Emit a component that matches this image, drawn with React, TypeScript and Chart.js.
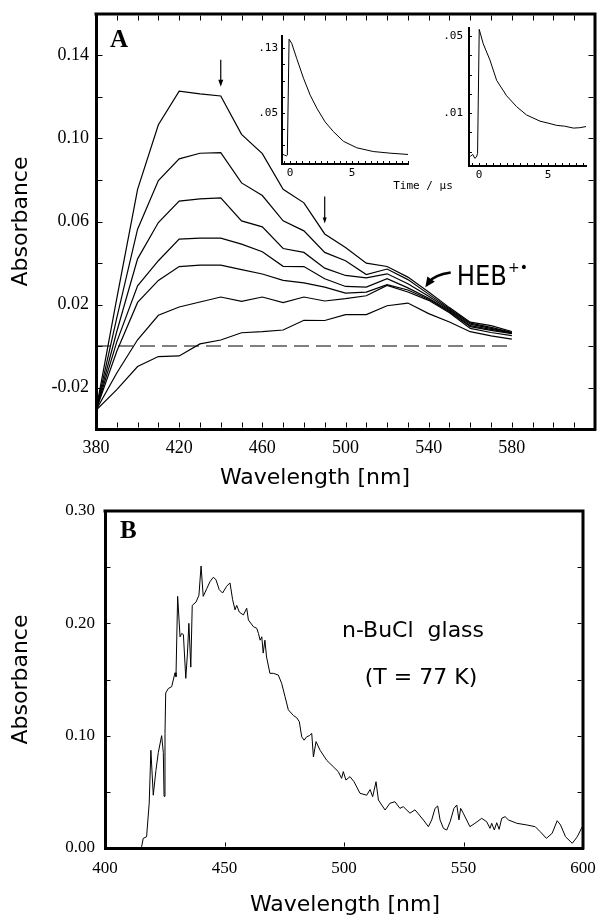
import React, { useEffect, useRef } from "react";
import { Chart, registerables } from "chart.js";
Chart.register(...registerables);

// ---------------- Panel A data ----------------
const wavelengthA = [380, 390, 400, 410, 420, 430, 440, 450, 460, 470, 480, 490, 500, 510, 520, 530, 540, 550, 560, 570, 580];
const traceA1 = [-0.031, 0.023, 0.0755, 0.1066, 0.1228, 0.1215, 0.1205, 0.102, 0.0927, 0.0755, 0.069, 0.054, 0.0475, 0.0399, 0.0383, 0.0332, 0.026, 0.0185, 0.0115, 0.0098, 0.007];
const traceA2 = [-0.031, 0.0135, 0.0563, 0.0797, 0.0902, 0.0929, 0.0932, 0.0786, 0.0725, 0.0603, 0.0555, 0.0451, 0.0411, 0.0344, 0.0371, 0.032, 0.025, 0.018, 0.011, 0.009, 0.0066];
const traceA3 = [-0.031, 0.007, 0.042, 0.0595, 0.0698, 0.0709, 0.0714, 0.0603, 0.0574, 0.047, 0.0451, 0.0375, 0.034, 0.0328, 0.0348, 0.03, 0.024, 0.0175, 0.0105, 0.0085, 0.0064];
const traceA4 = [-0.031, 0.002, 0.029, 0.0411, 0.0515, 0.052, 0.052, 0.0491, 0.0454, 0.0384, 0.0383, 0.0324, 0.0287, 0.0284, 0.0324, 0.028, 0.023, 0.017, 0.0098, 0.008, 0.0062];
const traceA5 = [-0.031, -0.0025, 0.021, 0.0316, 0.0383, 0.039, 0.039, 0.0368, 0.0347, 0.0316, 0.0304, 0.0284, 0.0255, 0.026, 0.0296, 0.027, 0.0225, 0.0165, 0.0093, 0.0075, 0.006];
const traceA6 = [-0.031, -0.013, 0.003, 0.0148, 0.0188, 0.0212, 0.0236, 0.0215, 0.0236, 0.0209, 0.0236, 0.0217, 0.0228, 0.0242, 0.0292, 0.026, 0.022, 0.016, 0.0085, 0.0065, 0.005];
const traceA7 = [-0.031, -0.021, -0.0099, -0.0051, -0.0048, 0.001, 0.0029, 0.0064, 0.0069, 0.0077, 0.0124, 0.0123, 0.0151, 0.0151, 0.0194, 0.0207, 0.0156, 0.0116, 0.0069, 0.0049, 0.0033];
const baselineAx = [380, 580];
const baselineAy = [0, 0];

const xTickLabelsA = ["380", "420", "460", "500", "540", "580"];
const yTickLabelsA = ["-0.02", "0.02", "0.06", "0.10", "0.14"];

// Inset 1 (kinetic trace)
const inset1Time = [-0.6, -0.45, -0.3, -0.22, -0.08, 0.13, 0.54, 1.08, 1.62, 2.15, 2.82, 3.49, 4.3, 5.38, 6.7, 8.04, 9.5];
const inset1Abs = [-0.001, -0.002, -0.003, -0.002, 0.141, 0.136, 0.117, 0.093, 0.072, 0.056, 0.039, 0.027, 0.015, 0.007, 0.0024, 0.0004, -0.0012];
const inset1XLabels = ["0", "5"];
const inset1YLabels = [".05", ".13"];

// Inset 2 (kinetic trace)
const inset2Time = [-0.62, -0.45, -0.3, -0.18, -0.1, 0.02, 0.31, 0.8, 1.28, 2.0, 2.73, 3.45, 4.42, 5.0, 5.63, 6.2, 6.84, 7.3, 7.76];
const inset2Abs = [-0.0125, -0.0115, -0.0135, -0.0128, -0.011, 0.0535, 0.046, 0.0375, 0.027, 0.019, 0.0133, 0.009, 0.0058, 0.0048, 0.0036, 0.0032, 0.0022, 0.0024, 0.003];
const inset2XLabels = ["0", "5"];
const inset2YLabels = [".01", ".05"];

// ---------------- Panel B data ----------------
const wavelengthB = [
  415.3, 416.0, 417.4, 418.5, 419.2, 420.2, 421.3, 422.3, 423.7, 424.4, 424.7, 425.1, 425.4, 426.5, 427.9, 429.3, 429.7,
  430.4, 431.4, 432.1, 432.8, 433.8, 434.5, 435.1, 435.9, 436.5, 438.1, 439.3, 440.2, 441.1, 442.6, 443.9, 445.3, 446.4,
  447.8, 449.2, 450.9, 452.3, 453.4, 454.4, 455.1, 456.2, 457.9, 459.3, 460.0, 462.1, 463.5, 464.2, 464.9, 465.6, 466.2,
  466.9, 467.6, 469.0, 470.4, 472.5, 473.9, 475.3, 476.7, 478.8, 480.2, 481.3, 482.3, 483.3, 484.4, 485.5, 486.5, 487.2,
  488.3, 490.0, 492.8, 495.5, 497.6, 499.0, 499.7, 500.8, 502.5, 504.2, 506.7, 509.5, 510.9, 512.0, 513.4, 514.4, 517.2,
  519.2, 521.3, 523.4, 524.8, 527.6, 529.7, 533.2, 535.3, 536.7, 538.1, 539.2, 540.2, 541.6, 543.0, 544.4, 546.0, 547.2,
  548.1, 548.8, 549.9, 552.7, 554.8, 557.6, 559.7, 561.1, 561.8, 562.9, 563.9, 564.9, 566.0, 567.4, 568.8, 572.3, 576.5,
  580.0, 582.1, 584.7, 587.1, 589.2, 590.6, 592.7, 595.5, 597.6, 599.7,
];
const absorbanceB = [
  0.001, 0.0086, 0.01, 0.04, 0.087, 0.047, 0.069, 0.085, 0.1, 0.085, 0.046, 0.102, 0.138, 0.142, 0.1436, 0.156, 0.1525,
  0.224, 0.188, 0.191, 0.19, 0.151, 0.1735, 0.2, 0.161, 0.216, 0.219, 0.225, 0.251, 0.224, 0.231, 0.237, 0.241, 0.239,
  0.23, 0.227, 0.233, 0.236, 0.221, 0.212, 0.216, 0.21, 0.2075, 0.2134, 0.203, 0.197, 0.1956, 0.191, 0.185, 0.188, 0.1735,
  0.185, 0.17, 0.1555, 0.1555, 0.154, 0.1467, 0.135, 0.123, 0.118, 0.116, 0.1125, 0.099, 0.096, 0.099, 0.1, 0.102, 0.081,
  0.0947, 0.087, 0.078, 0.0724, 0.068, 0.062, 0.068, 0.0605, 0.0635, 0.059, 0.0487, 0.047, 0.052, 0.0457, 0.059, 0.0427, 0.0338,
  0.0398, 0.0412, 0.0353, 0.0368, 0.031, 0.034, 0.025, 0.019, 0.025, 0.0353, 0.0374, 0.025, 0.0175, 0.016, 0.0234, 0.0353, 0.0383,
  0.025, 0.0353, 0.031, 0.019, 0.022, 0.0264, 0.0234, 0.0175, 0.022, 0.016, 0.0225, 0.0166, 0.0264, 0.0279, 0.025, 0.022, 0.0205,
  0.019, 0.0145, 0.0086, 0.0131, 0.0243, 0.0205, 0.01, 0.0042, 0.01, 0.019,
];
const xTickLabelsB = ["400", "450", "500", "550", "600"];
const yTickLabelsB = ["0.00", "0.10", "0.20", "0.30"];

// ---------------- helpers ----------------
const SERIF = '"Liberation Serif", "Times New Roman", serif';
const SANS = '"DejaVu Sans", sans-serif';
const MONO = '"DejaVu Sans Mono", monospace';

function range(a: number, b: number, step: number) {
  const out: number[] = [];
  const n = Math.round((b - a) / step);
  for (let i = 0; i <= n; i++) out.push(Math.round((a + i * step) * 1e6) / 1e6);
  return out;
}

function toPoints(xs: number[], ys: number[]) {
  return xs.map((x, i) => ({ x, y: ys[i] }));
}

type AxisOpts = {
  position: "left" | "bottom";
  min: number;
  max: number;
  ticks: number[];
  labels: string[];
  labelOffset: number;
  size: number;
  borderWidth: number;
  fontFamily?: string;
  fontSize?: number;
};

// Axis: border + labels from Chart.js; the (transparent) tick length only offsets the labels,
// the visible inward tick marks are drawn by the frame plugin from the same scale.
function axis(o: AxisOpts) {
  const horizontal = o.position === "bottom";
  const labelVals = o.labels.map((l) => ({ v: parseFloat(l), t: l }));
  return {
    type: "linear",
    position: o.position,
    min: o.min,
    max: o.max,
    afterBuildTicks: (s: any) => {
      s.ticks = o.ticks.map((v) => ({ value: v }));
    },
    afterFit: (s: any) => {
      if (horizontal) s.height = o.size;
      else s.width = o.size;
    },
    ticks: {
      display: true,
      autoSkip: false,
      maxRotation: 0,
      minRotation: 0,
      padding: 0,
      color: "#000",
      font: { family: o.fontFamily || SERIF, size: o.fontSize || 12 },
      callback: (v: number) => {
        const f = labelVals.find((l) => Math.abs(l.v - v) < 1e-7);
        return f ? f.t : "";
      },
    },
    grid: {
      drawOnChartArea: false,
      drawTicks: true,
      tickLength: o.labelOffset,
      tickColor: "rgba(0,0,0,0)",
      color: "rgba(0,0,0,0)",
      lineWidth: 1,
    },
    border: { display: true, color: "#000", width: o.borderWidth },
  };
}

const baseOptions = (padding: any) => ({
  responsive: false,
  animation: false,
  devicePixelRatio: 1,
  events: [],
  layout: { padding, autoPadding: false },
  plugins: { legend: { display: false }, tooltip: { enabled: false }, title: { display: false } },
  elements: { point: { radius: 0 }, line: { tension: 0 } },
});

function lineDs(xs: number[], ys: number[], width: number, dash?: number[]) {
  return {
    data: toPoints(xs, ys),
    borderColor: "#000",
    borderWidth: width,
    borderDash: dash || [],
    pointRadius: 0,
    fill: false,
    xAxisID: "x",
    yAxisID: "y",
  };
}

function drawArrowHead(ctx: CanvasRenderingContext2D, tipX: number, tipY: number, dx: number, dy: number, len: number, halfW: number) {
  const m = Math.hypot(dx, dy);
  const ux = dx / m, uy = dy / m;
  const bx = tipX - ux * len, by = tipY - uy * len;
  ctx.beginPath();
  ctx.moveTo(tipX, tipY);
  ctx.lineTo(bx - uy * halfW, by + ux * halfW);
  ctx.lineTo(bx + uy * halfW, by - ux * halfW);
  ctx.closePath();
  ctx.fill();
}

type FrameSpec = {
  box: boolean; // draw top + right border
  lw: number;
  tl: number;
  bottom: number[];
  left: number[];
  top: number[];
  right: number[];
};

function makeFramePlugin(spec: FrameSpec) {
  return {
    id: "frameTicks",
    afterDraw(chart: any) {
      const ctx: CanvasRenderingContext2D = chart.ctx;
      const ca = chart.chartArea;
      const xs = chart.scales.x, ys = chart.scales.y;
      ctx.save();
      ctx.strokeStyle = "#000";
      if (spec.box) {
        ctx.lineWidth = spec.lw;
        ctx.beginPath();
        ctx.moveTo(ca.left - spec.lw / 2, ca.top);
        ctx.lineTo(ca.right, ca.top);
        ctx.lineTo(ca.right, ca.bottom + spec.lw / 2);
        ctx.stroke();
      }
      ctx.lineWidth = 1;
      ctx.beginPath();
      const h = spec.lw / 2;
      spec.bottom.forEach((v) => {
        const px = Math.round(xs.getPixelForValue(v)) + 0.5;
        ctx.moveTo(px, ca.bottom - h);
        ctx.lineTo(px, ca.bottom - h - spec.tl);
      });
      spec.top.forEach((v) => {
        const px = Math.round(xs.getPixelForValue(v)) + 0.5;
        ctx.moveTo(px, ca.top + h);
        ctx.lineTo(px, ca.top + h + spec.tl);
      });
      spec.left.forEach((v) => {
        const py = Math.round(ys.getPixelForValue(v)) + 0.5;
        ctx.moveTo(ca.left + h, py);
        ctx.lineTo(ca.left + h + spec.tl, py);
      });
      spec.right.forEach((v) => {
        const py = Math.round(ys.getPixelForValue(v)) + 0.5;
        ctx.moveTo(ca.right - h, py);
        ctx.lineTo(ca.right - h - spec.tl, py);
      });
      ctx.stroke();
      ctx.restore();
    },
  };
}

// annotation anchors (data units)
const arrowMarksA = [
  { x: 440, from: 0.138, to: 0.125, head: 7, half: 2.5 },
  { x: 490, from: 0.072, to: 0.059, head: 6, half: 2 },
];
const hebLabel = { x: 553.5, y: 0.0292 };
const hebArrow = { x0: 550.6, y0: 0.0354, cx: 542.5, cy: 0.0342, x1: 538.4, y1: 0.0283 };

const ticksAx = range(380, 620, 10);
const ticksAy = range(-0.04, 0.16, 0.02);
const ticksBx = range(400, 600, 50);
const ticksBy = range(0, 0.3, 0.05);

const overlayA = {
  id: "overlayA",
  afterDraw(chart: any) {
    const ctx: CanvasRenderingContext2D = chart.ctx;
    const xs = chart.scales.x, ys = chart.scales.y;
    const X = (v: number) => xs.getPixelForValue(v);
    const Y = (v: number) => ys.getPixelForValue(v);
    const ca = chart.chartArea;
    ctx.save();
    ctx.fillStyle = "#000";
    ctx.strokeStyle = "#000";
    ctx.font = `bold 25px ${SERIF}`;
    ctx.textAlign = "left";
    ctx.textBaseline = "alphabetic";
    ctx.fillText("A", ca.left + 14, ca.top + 33);
    ctx.font = `22px ${SANS}`;
    ctx.save();
    ctx.translate(21, (ca.top + ca.bottom) / 2);
    ctx.rotate(-Math.PI / 2);
    ctx.textAlign = "center";
    ctx.textBaseline = "middle";
    ctx.fillText("Absorbance", 0, 0);
    ctx.restore();
    ctx.textAlign = "center";
    ctx.textBaseline = "middle";
    ctx.fillText("Wavelength [nm]", 315, ca.bottom + 49);
    ctx.font = `11px ${MONO}`;
    ctx.fillText("Time / \u00b5s", 423, 186);
    arrowMarksA.forEach((a) => {
      const px = X(a.x);
      ctx.lineWidth = 1.2;
      ctx.beginPath();
      ctx.moveTo(px, Y(a.from));
      ctx.lineTo(px, Y(a.to) - a.head + 1);
      ctx.stroke();
      drawArrowHead(ctx, px, Y(a.to), 0, 1, a.head, a.half);
    });
    ctx.font = `27px "Liberation Sans Narrow", "DejaVu Sans Condensed", ${SANS}`;
    ctx.textAlign = "left";
    ctx.textBaseline = "alphabetic";
    ctx.fillText("HEB", X(hebLabel.x), Y(hebLabel.y));
    const w = ctx.measureText("HEB").width;
    ctx.font = `14px ${SANS}`;
    ctx.fillText("+\u2022", X(hebLabel.x) + w + 1, Y(hebLabel.y) - 13);
    ctx.lineWidth = 2.4;
    const x0 = X(hebArrow.x0), y0 = Y(hebArrow.y0);
    const cx = X(hebArrow.cx), cy = Y(hebArrow.cy);
    const x1 = X(hebArrow.x1), y1 = Y(hebArrow.y1);
    const dx = x1 - cx, dy = y1 - cy;
    const m = Math.hypot(dx, dy);
    ctx.beginPath();
    ctx.moveTo(x0, y0);
    ctx.quadraticCurveTo(cx, cy, x1 - (dx / m) * 6, y1 - (dy / m) * 6);
    ctx.stroke();
    drawArrowHead(ctx, x1, y1, dx, dy, 10, 4.5);
    ctx.restore();
  },
};

const overlayB = {
  id: "overlayB",
  afterDraw(chart: any) {
    const ctx: CanvasRenderingContext2D = chart.ctx;
    const ca = chart.chartArea;
    ctx.save();
    ctx.fillStyle = "#000";
    ctx.font = `bold 25px ${SERIF}`;
    ctx.textAlign = "left";
    ctx.textBaseline = "alphabetic";
    ctx.fillText("B", ca.left + 15, ca.top + 27);
    ctx.font = `22px ${SANS}`;
    ctx.save();
    ctx.translate(21, (ca.top + ca.bottom) / 2);
    ctx.rotate(-Math.PI / 2);
    ctx.textAlign = "center";
    ctx.textBaseline = "middle";
    ctx.fillText("Absorbance", 0, 0);
    ctx.restore();
    ctx.textAlign = "center";
    ctx.textBaseline = "middle";
    ctx.fillText("Wavelength [nm]", 345, ca.bottom + 57);
    ctx.fillText("n-BuCl  glass", 413, ca.top + 120);
    ctx.fillText("(T = 77 K)", 421, ca.top + 167);
    ctx.restore();
  },
};

// ---------------- chart builders ----------------
function buildA() {
  const traces = [traceA1, traceA2, traceA3, traceA4, traceA5, traceA6, traceA7];
  return {
    type: "line",
    data: {
      datasets: [
        ...traces.map((t) => lineDs(wavelengthA, t, 1.2)),
        lineDs(baselineAx, baselineAy, 1.2, [15, 7]),
      ],
    },
    options: {
      ...baseOptions({ left: 0, right: 2, top: 14, bottom: 0 }),
      scales: {
        x: axis({ position: "bottom", min: 380, max: 620, ticks: ticksAx, labels: xTickLabelsA, labelOffset: 8, size: 66, borderWidth: 3, fontSize: 18 }),
        y: axis({ position: "left", min: -0.04, max: 0.16, ticks: ticksAy, labels: yTickLabelsA, labelOffset: 7, size: 96, borderWidth: 3, fontSize: 18 }),
      },
    },
    plugins: [
      makeFramePlugin({ box: true, lw: 3, tl: 5, bottom: ticksAx.slice(1, -1), top: ticksAx.slice(1, -1), left: ticksAy.slice(1, -1), right: ticksAy.slice(1, -1) }),
      overlayA,
    ],
  };
}

function buildInset(
  t: number[], a: number[], xmin: number, xmax: number, ymin: number, ymax: number,
  xticks: number[], yticks: number[], xl: string[], yl: string[], pad: any, ySize: number, xSize: number, yOff: number
) {
  return {
    type: "line",
    data: { datasets: [lineDs(t, a, 1)] },
    options: {
      ...baseOptions(pad),
      scales: {
        x: axis({ position: "bottom", min: xmin, max: xmax, ticks: xticks, labels: xl, labelOffset: 3, size: xSize, borderWidth: 2, fontFamily: MONO, fontSize: 11 }),
        y: axis({ position: "left", min: ymin, max: ymax, ticks: yticks, labels: yl, labelOffset: yOff, size: ySize, borderWidth: 2, fontFamily: MONO, fontSize: 11 }),
      },
    },
    plugins: [makeFramePlugin({ box: false, lw: 2, tl: 2, bottom: xticks, left: yticks, top: [], right: [] })],
  };
}

function buildB() {
  return {
    type: "line",
    data: { datasets: [lineDs(wavelengthB, absorbanceB, 1)] },
    options: {
      ...baseOptions({ left: 0, right: 14, top: 16, bottom: 0 }),
      scales: {
        x: axis({ position: "bottom", min: 400, max: 600, ticks: ticksBx, labels: xTickLabelsB, labelOffset: 10, size: 70, borderWidth: 3, fontSize: 17 }),
        y: axis({ position: "left", min: 0, max: 0.3, ticks: ticksBy, labels: yTickLabelsB, labelOffset: 10, size: 105, borderWidth: 3, fontSize: 17 }),
      },
    },
    plugins: [
      makeFramePlugin({ box: true, lw: 3, tl: 4, bottom: ticksBx.slice(1, -1), top: [], left: ticksBy.slice(1, -1), right: ticksBy.slice(1, -1) }),
      overlayB,
    ],
  };
}

function ChartCanvas(props: { left: number; top: number; width: number; height: number; build: () => any }) {
  const ref = useRef<HTMLCanvasElement | null>(null);
  useEffect(() => {
    const chart = new Chart(ref.current as HTMLCanvasElement, props.build());
    return () => chart.destroy();
  }, []);
  return (
    <canvas
      ref={ref}
      width={props.width}
      height={props.height}
      style={{ position: "absolute", left: props.left, top: props.top, width: props.width, height: props.height }}
    />
  );
}

export default function App() {
  return (
    <div style={{ position: "absolute", left: 0, top: 0, width: 597, height: 918, background: "#fff", overflow: "hidden" }}>
      <ChartCanvas left={0} top={0} width={597} height={495} build={buildA} />
      <ChartCanvas
        left={240}
        top={25}
        width={180}
        height={175}
        build={() =>
          buildInset(inset1Time, inset1Abs, -0.65, 9.5, -0.013, 0.145, range(-0.5, 9.5, 0.5), range(0.01, 0.13, 0.02),
            inset1XLabels, inset1YLabels, { left: 0, right: 12, top: 11, bottom: 0 }, 42, 36, 4)
        }
      />
      <ChartCanvas
        left={425}
        top={15}
        width={172}
        height={190}
        build={() =>
          buildInset(inset2Time, inset2Abs, -0.72, 7.75, -0.0175, 0.0542, range(-0.5, 7.5, 0.5), range(-0.01, 0.05, 0.01),
            inset2XLabels, inset2YLabels, { left: 0, right: 11, top: 13, bottom: 0 }, 44, 39, 6)
        }
      />
      <ChartCanvas left={0} top={495} width={597} height={423} build={buildB} />
    </div>
  );
}
